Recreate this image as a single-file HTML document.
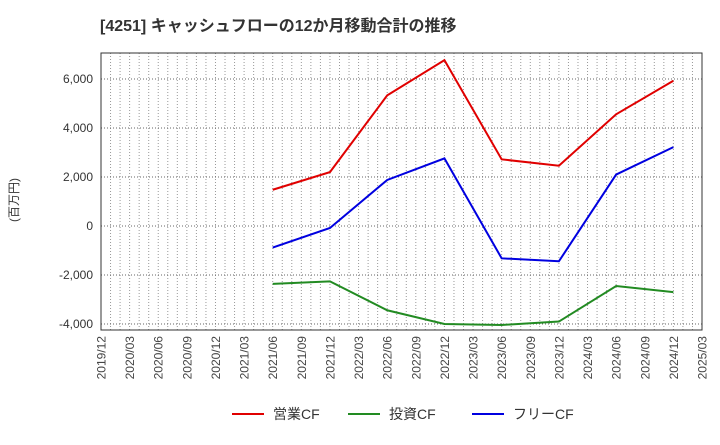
<!DOCTYPE html>
<html><head><meta charset="utf-8"><style>
body{margin:0;background:#fff;font-family:"Liberation Sans","Noto Sans CJK JP",sans-serif;}
</style></head><body>
<svg width="720" height="440" xmlns="http://www.w3.org/2000/svg" font-family="Liberation Sans, Noto Sans CJK JP, sans-serif">
<text x="100" y="31" font-size="16" font-weight="bold" fill="#333">[4251]  キャッシュフローの12か月移動合計の推移</text>
<text transform="translate(18,200) rotate(-90)" text-anchor="middle" font-size="12" fill="#333">(百万円)</text>
<g id="grid"></g><g id="axes"></g><g id="series"></g><g id="legend"></g>
</svg>
<script>
const dates=["2021/06","2021/12","2022/06","2022/12","2023/06","2023/12","2024/06","2024/12"];
const opCF=[1480,2200,5330,6770,2720,2460,4560,5930];
const invCF=[-2360,-2260,-3440,-4000,-4040,-3900,-2450,-2700];
const freeCF=[-880,-80,1880,2760,-1320,-1440,2100,3220];
const yTicks=[-4000,-2000,0,2000,4000,6000];
const xTicks=["2019/12","2020/03","2020/06","2020/09","2020/12","2021/03","2021/06","2021/09","2021/12","2022/03","2022/06","2022/09","2022/12","2023/03","2023/06","2023/09","2023/12","2024/03","2024/06","2024/09","2024/12","2025/03"];
const L=101,R=702,T=53,B=330;
const NS="http://www.w3.org/2000/svg";
function mIdx(s){const[a,b]=s.split("/").map(Number);return a*12+b;}
const m0=mIdx("2019/12"),m1=mIdx("2025/03");
function xS(s){return L+(mIdx(s)-m0)/(m1-m0)*(R-L);}
function xM(m){return L+(m-m0)/(m1-m0)*(R-L);}
function yS(v){return 226-v/2000*49;}
function mk(tag,attrs,parent){const e=document.createElementNS(NS,tag);for(const k in attrs)e.setAttribute(k,attrs[k]);document.getElementById(parent).appendChild(e);return e;}
for(let m=m0+1;m<m1;m++){const x=xM(m);
const g=mk("line",{x1:x,x2:x,y1:T,y2:B,stroke:"#999","stroke-width":1,"stroke-dasharray":"1,2"},"grid");

}
yTicks.forEach(v=>{const y=yS(v);
const g=mk("line",{x1:L,x2:R,y1:y,y2:y,stroke:"#666","stroke-width":1,"stroke-dasharray":"1,2"},"grid");


const t=mk("text",{x:L-8,y:y+4,"text-anchor":"end","font-size":12,fill:"#333"},"axes");t.textContent=v.toLocaleString("en-US");

});
xTicks.forEach(s=>{const x=xS(s);
const t=mk("text",{transform:`translate(${x+4.5},${B+6}) rotate(-90)`,"text-anchor":"end","font-size":12,fill:"#444"},"axes");t.textContent=s;

});
const fr=mk("rect",{x:L,y:T,width:R-L,height:B-T,fill:"none",stroke:"#333","stroke-width":1},"axes");


const series=[["operating-cf-line",opCF,"#e00000","営業CF"],["investing-cf-line",invCF,"#228b22","投資CF"],["free-cf-line",freeCF,"#0000e0","フリーCF"]];
series.forEach(([n,vals,c])=>{const p=mk("polyline",{points:vals.map((v,i)=>xS(dates[i])+","+yS(v)).join(" "),fill:"none",stroke:c,"stroke-width":2},"series");

});
const lx=[232,348,472];
series.forEach(([n,vals,c,lab],i)=>{
const l=mk("line",{x1:lx[i],x2:lx[i]+32,y1:414,y2:414,stroke:c,"stroke-width":2},"legend");


const t=mk("text",{x:lx[i]+41,y:419,"font-size":14,fill:"#333"},"legend");t.textContent=lab;

});
</script>
</body></html>
